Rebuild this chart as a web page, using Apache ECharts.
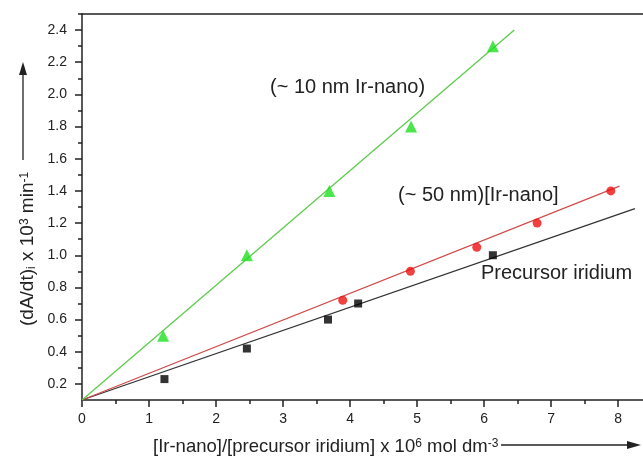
<!DOCTYPE html>
<html>
<head>
<meta charset="utf-8">
<script src="https://cdn.jsdelivr.net/npm/echarts@6/dist/echarts.min.js"></script>
<style>
  html, body { margin: 0; padding: 0; background: #fff; }
  #chart { width: 643px; height: 459px; }
</style>
</head>
<body>
<div id="chart"></div>
<script>
// tick values
const xTicks = [0, 1, 2, 3, 4, 5, 6, 7, 8]
const xMinorTicks = [0.5, 1.5, 2.5, 3.5, 4.5, 5.5, 6.5, 7.5]
const yTicks = [0.2, 0.4, 0.6, 0.8, 1.0, 1.2, 1.4, 1.6, 1.8, 2.0, 2.2, 2.4]
const yMinorTicks = [0.3, 0.5, 0.7, 0.9, 1.1, 1.3, 1.5, 1.7, 1.9, 2.1, 2.3, 2.5]

// measured points
const precursorX = [1.23, 2.46, 3.67, 4.12, 6.13]
const precursorY = [0.23, 0.42, 0.60, 0.70, 1.00]
const nano50X = [3.89, 4.90, 5.89, 6.79, 7.89]
const nano50Y = [0.72, 0.90, 1.05, 1.20, 1.40]
const nano10X = [1.21, 2.46, 3.69, 4.91, 6.13]
const nano10Y = [0.50, 1.00, 1.40, 1.80, 2.30]

// fitted lines (end points)
const precursorFitX = [0, 8.25]
const precursorFitY = [0.1, 1.29]
const nano50FitX = [0, 8.02]
const nano50FitY = [0.1, 1.43]
const nano10FitX = [0, 6.45]
const nano10FitY = [0.1, 2.40]

const FONT = 'Liberation Sans'
const INK = '#222'

const zip = (xs, ys) => xs.map((x, i) => [x, ys[i]])

const rich = {
  sup: { fontSize: 12, fontFamily: FONT, fill: INK, color: INK, verticalAlign: 'top' },
  sub: { fontSize: 12, fontFamily: FONT, fill: INK, color: INK, verticalAlign: 'bottom' }
}

const axisLine = { lineStyle: { color: INK, width: 1.5 } }

const chart = echarts.init(document.getElementById('chart'))

chart.setOption({
  animation: false,
  grid: { left: 82, right: 0, top: 14, bottom: 59 },
  xAxis: [
    {
      type: 'value', min: 0, max: 8.37, position: 'bottom',
      axisLine,
      axisTick: { customValues: xTicks, length: 7, lineStyle: { color: INK, width: 1.5 } },
      axisLabel: { customValues: xTicks, fontSize: 14, fontFamily: FONT, color: INK, margin: 12 },
      splitLine: { show: false }
    },
    {
      type: 'value', min: 0, max: 8.37, position: 'bottom',
      axisLine: { show: false },
      axisTick: { customValues: xMinorTicks, length: 4, lineStyle: { color: INK, width: 1.5 } },
      axisLabel: { show: false },
      splitLine: { show: false }
    },
    {
      type: 'value', min: 0, max: 8.37, position: 'top',
      axisLine,
      axisTick: { show: false },
      axisLabel: { show: false },
      splitLine: { show: false }
    }
  ],
  yAxis: [
    {
      type: 'value', min: 0.1, max: 2.5, position: 'left',
      axisLine: { show: true, lineStyle: { color: INK, width: 1.5 } },
      axisTick: { show: true, customValues: yTicks, length: 7, lineStyle: { color: INK, width: 1.5 } },
      axisLabel: { customValues: yTicks, fontSize: 14, fontFamily: FONT, color: INK, margin: 15,
        formatter: (v) => v.toFixed(1) },
      splitLine: { show: false }
    },
    {
      type: 'value', min: 0.1, max: 2.5, position: 'left',
      axisLine: { show: false },
      axisTick: { show: true, customValues: yMinorTicks, length: 4, lineStyle: { color: INK, width: 1.5 } },
      axisLabel: { show: false },
      splitLine: { show: false }
    }
  ],
  series: [
    {
      type: 'line', data: zip(precursorFitX, precursorFitY), symbol: 'none',
      lineStyle: { color: '#333', width: 1.3 }, z: 1
    },
    {
      type: 'line', data: zip(nano50FitX, nano50FitY), symbol: 'none',
      lineStyle: { color: '#d04c4c', width: 1.3 }, z: 1
    },
    {
      type: 'line', data: zip(nano10FitX, nano10FitY), symbol: 'none',
      lineStyle: { color: '#5ccc4c', width: 1.3 }, z: 1
    },
    {
      type: 'scatter', data: zip(precursorX, precursorY), symbol: 'rect', symbolSize: 8,
      itemStyle: { color: '#000' }, z: 3
    },
    {
      type: 'scatter', data: zip(nano50X, nano50Y), symbol: 'circle', symbolSize: 9,
      itemStyle: { color: '#ee1010' }, z: 3
    },
    {
      type: 'scatter', data: zip(nano10X, nano10Y), symbol: 'triangle', symbolSize: 12,
      itemStyle: { color: '#1ee01e' }, z: 3
    }
  ],
  graphic: [
    {
      type: 'text', x: 270, y: 87,
      style: { text: '(~ 10 nm Ir-nano)', fontSize: 20, fontFamily: FONT, fill: INK,
        align: 'left', verticalAlign: 'middle' }
    },
    {
      type: 'text', x: 398, y: 195,
      style: { text: '(~ 50 nm)[Ir-nano]', fontSize: 20, fontFamily: FONT, fill: INK,
        align: 'left', verticalAlign: 'middle' }
    },
    {
      type: 'text', x: 481, y: 273,
      style: { text: 'Precursor iridium', fontSize: 20, fontFamily: FONT, fill: INK,
        align: 'left', verticalAlign: 'middle' }
    },
    // x axis title with arrow
    {
      type: 'group', x: 153, y: 447,
      children: [
        {
          type: 'text', x: 0, y: 0,
          style: { text: '[Ir-nano]/[precursor iridium] x 10{sup|6} mol dm{sup|-3}', rich,
            fontSize: 18.5, fontFamily: FONT, fill: INK, align: 'left', verticalAlign: 'middle' }
        },
        { type: 'line', shape: { x1: 348, y1: -2, x2: 478, y2: -2 }, style: { stroke: INK, lineWidth: 1.3 } },
        { type: 'polygon', shape: { points: [[488, -2], [474, -6], [474, 2]] }, style: { fill: INK } }
      ]
    },
    // y axis title with arrow
    {
      type: 'group', x: 28, y: 326, rotation: Math.PI / 2,
      children: [
        {
          type: 'text', x: 0, y: 0,
          style: { text: '(dA/dt){sub|i} x 10{sup|3} min{sup|-1}', rich,
            fontSize: 19, fontFamily: FONT, fill: INK, align: 'left', verticalAlign: 'middle' }
        },
        { type: 'line', shape: { x1: 166, y1: -5, x2: 254, y2: -5 }, style: { stroke: INK, lineWidth: 1.3 } },
        { type: 'polygon', shape: { points: [[264, -5], [251, -9], [251, -1]] }, style: { fill: INK } }
      ]
    }
  ]
})
</script>
</body>
</html>
